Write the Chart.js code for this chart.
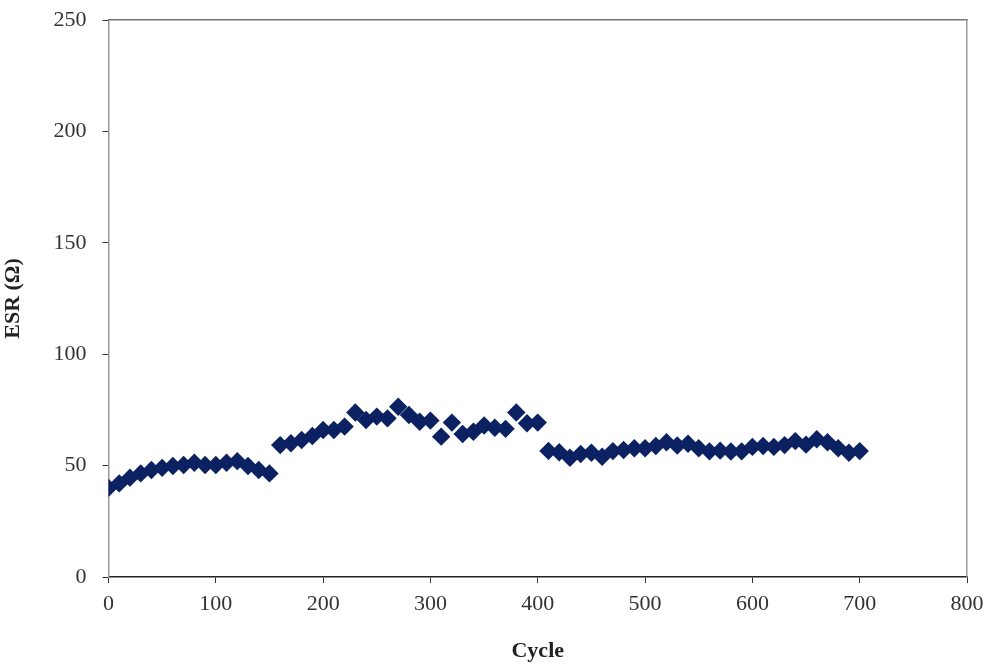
<!DOCTYPE html>
<html>
<head>
<meta charset="utf-8">
<script src="https://cdn.jsdelivr.net/npm/chart.js@4.4.0/dist/chart.umd.min.js"></script>
<style>
  html, body { margin: 0; padding: 0; background: #fff; }
</style>
</head>
<body>
<canvas id="myChart" width="987" height="665"></canvas>
<script>
// cycle number of each measurement
var cycles = [0, 10, 20, 30, 40, 50, 60, 70, 80, 90,
  100, 110, 120, 130, 140, 150, 160, 170, 180, 190,
  200, 210, 220, 230, 240, 250, 260, 270, 280, 290,
  300, 310, 320, 330, 340, 350, 360, 370, 380, 390,
  400, 410, 420, 430, 440, 450, 460, 470, 480, 490,
  500, 510, 520, 530, 540, 550, 560, 570, 580, 590,
  600, 610, 620, 630, 640, 650, 660, 670, 680, 690, 700];

// ESR in ohm
var esr = [40, 42, 44.6, 46.5, 48, 49, 49.8, 50.3, 51.3, 50.3,
  50.3, 51.3, 52, 49.8, 48, 46.5, 59.2, 60, 61.5, 63.3,
  66, 66, 67.5, 73.8, 70.5, 72, 71.2, 76.4, 72.7, 69.7,
  70.2, 63, 69.3, 64.2, 65.2, 68, 67, 66.5, 73.8, 69,
  69.3, 56.6, 56, 53.5, 55.2, 55.8, 54, 56.5, 57, 57.8,
  57.8, 58.8, 60.5, 59, 59.8, 57.8, 56.4, 56.7, 56.3, 56.4,
  58.4, 58.8, 58.4, 59.2, 61, 59.4, 61.8, 60.5, 57.8, 55.8, 56.5];

var xTicks = [0, 100, 200, 300, 400, 500, 600, 700, 800];
var yTicks = [0, 50, 100, 150, 200, 250];

var points = cycles.map(function (c, i) { return { x: c, y: esr[i] }; });

var serif = "'Liberation Serif', 'Times New Roman', serif";

var ctx = document.getElementById("myChart").getContext("2d");
var myChart = new Chart(ctx, {
  type: 'scatter',
  data: {
    datasets: [{
      label: 'ESR',
      data: points,
      pointStyle: 'rectRot',
      pointRadius: 9.2,
      pointHoverRadius: 9.2,
      backgroundColor: '#0b2161',
      borderColor: '#0b2161',
      borderWidth: 0
    }]
  },
  options: {
    responsive: false,
    animation: false,
    devicePixelRatio: 1,
    layout: { padding: { left: 0, top: 20, right: 20, bottom: 0 } },
    plugins: { legend: { display: false }, tooltip: { enabled: false } },
    scales: {
      x: {
        type: 'linear',
        min: xTicks[0],
        max: xTicks[xTicks.length - 1],
        afterBuildTicks: function (axis) { axis.ticks = xTicks.map(function (v) { return { value: v }; }); },
        afterFit: function (axis) {
          axis.height = 88;
          axis.paddingLeft = 0;
          axis.paddingRight = 0;
        },
        grid: { display: true, drawOnChartArea: false, tickLength: 6, color: '#333', lineWidth: 1 },
        border: { display: true, color: '#222', width: 1.5 },
        ticks: { color: '#333', padding: 8, maxRotation: 0, font: { family: serif, size: 22 } },
        title: { display: true, text: 'Cycle', color: '#222', padding: { top: 6, bottom: 0 },
                 font: { family: serif, size: 22, weight: 'bold' } }
      },
      y: {
        type: 'linear',
        min: yTicks[0],
        max: yTicks[yTicks.length - 1],
        afterBuildTicks: function (axis) { axis.ticks = yTicks.map(function (v) { return { value: v }; }); },
        afterFit: function (axis) {
          axis.width = 108.5;
          axis.paddingTop = 0;
          axis.paddingBottom = 0;
        },
        grid: { display: true, drawOnChartArea: false, tickLength: 6, color: '#333', lineWidth: 1 },
        border: { display: true, color: '#999', width: 1.5 },
        ticks: { color: '#333', padding: 16, font: { family: serif, size: 22 } },
        title: { display: true, text: 'ESR (Ω)', color: '#222', padding: { top: 0, bottom: 0 },
                 font: { family: serif, size: 22, weight: 'bold' } }
      },
      x2: {
        type: 'linear', position: 'top', min: 0, max: 800,
        afterFit: function (axis) { axis.height = 0; axis.paddingLeft = 0; axis.paddingRight = 0; },
        grid: { display: false, drawOnChartArea: false, tickLength: 0 },
        border: { display: true, color: '#777', width: 1.5 },
        ticks: { display: false }
      },
      y2: {
        type: 'linear', position: 'right', min: 0, max: 250,
        afterFit: function (axis) { axis.width = 0; axis.paddingTop = 0; axis.paddingBottom = 0; },
        grid: { display: false, drawOnChartArea: false, tickLength: 0 },
        border: { display: true, color: '#999', width: 1.5 },
        ticks: { display: false }
      }
    }
  }
});
</script>
</body>
</html>
